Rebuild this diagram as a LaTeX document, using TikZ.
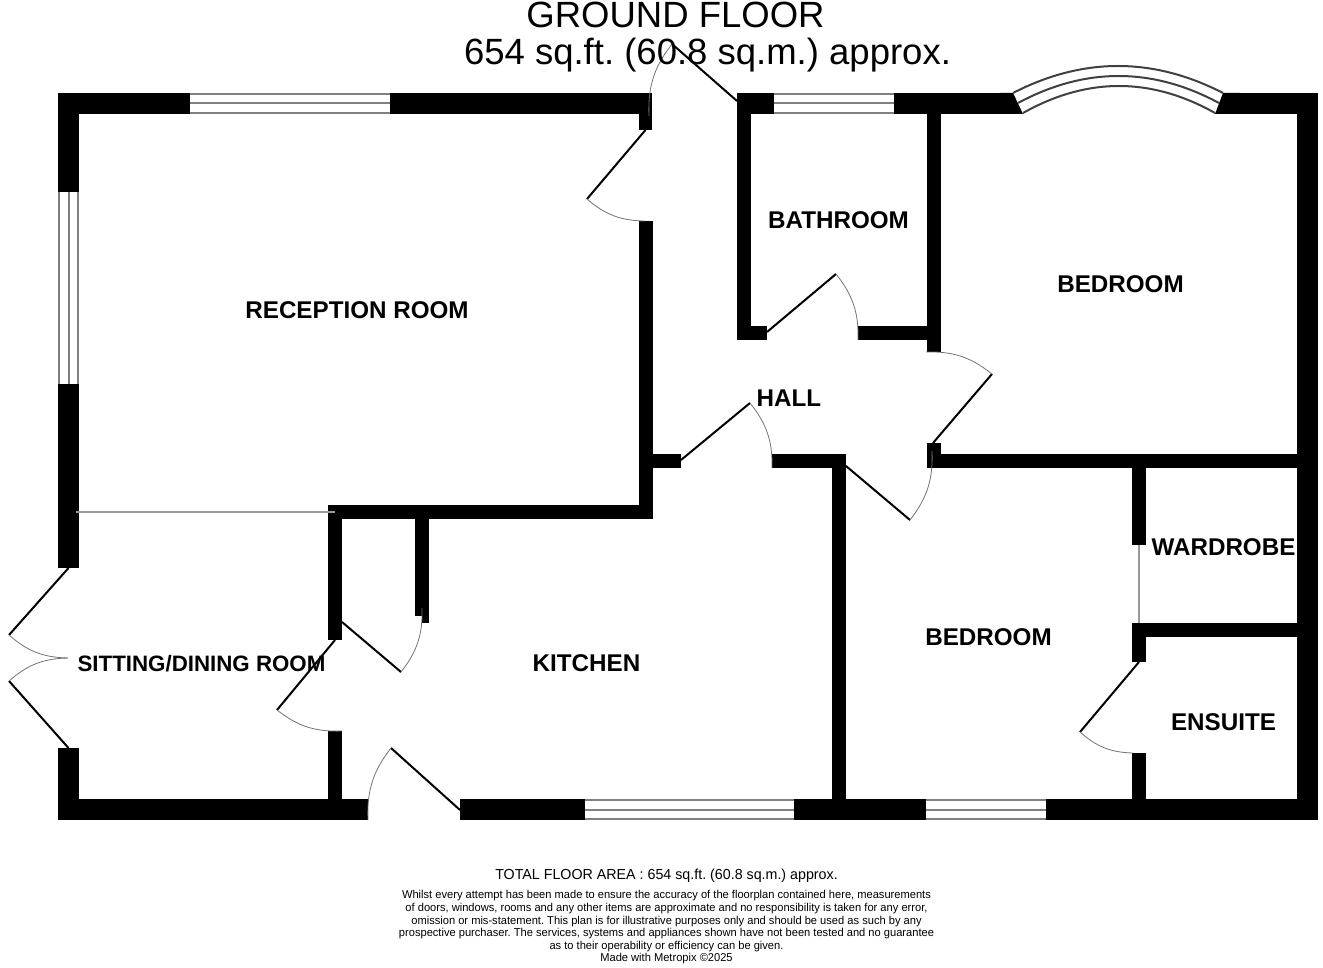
\documentclass[tikz,border=0pt]{standalone}
\usepackage{fontspec}
\setmainfont{Liberation Sans}
\frenchspacing
\tikzset{
  wall/.style={fill=black},
  glass/.style={draw=black!50,line width=2pt},
  bay/.style={draw=black!75,line width=2pt},
  leaf/.style={draw=black,line width=2pt},
  swing/.style={draw=black!55,line width=0.8pt},
  divide/.style={draw=black!40,line width=1.2pt},
  room/.style={font=\fontsize{24.2}{28}\selectfont\bfseries,inner sep=0pt,anchor=base},
  heading/.style={font=\fontsize{36.5}{42}\selectfont,inner sep=0pt,anchor=base},
}
\begin{document}
\begin{tikzpicture}[x=1pt,y=-1pt]
  \useasboundingbox (0,0) rectangle (1323,968);
  \fill[white] (0,0) rectangle (1323,968);
  \fill[wall] (58,93) rectangle (190,114);
  \fill[wall] (390,93) rectangle (652,114);
  \fill[wall] (638.5,93) rectangle (652,130);
  \fill[wall] (638.5,221) rectangle (652.5,519);
  \fill[wall] (58,93) rectangle (79,192);
  \fill[wall] (58,384) rectangle (79,568);
  \fill[wall] (58,748) rectangle (79,820);
  \fill[wall] (58,798.5) rectangle (368,820);
  \fill[wall] (460,798.5) rectangle (585,820);
  \fill[wall] (794,798.5) rectangle (926,820);
  \fill[wall] (1046,798.5) rectangle (1318,820);
  \fill[wall] (737,93) rectangle (774,114);
  \fill[wall] (894,93) rectangle (1013,114);
  \fill[wall] (1013,93) -- (1023,114) -- (1000,114) -- (1000,93) -- cycle;
  \fill[wall] (1223,93) -- (1215,114) -- (1240,114) -- (1240,93) -- cycle;
  \fill[wall] (1235,93) rectangle (1318,114);
  \fill[wall] (1297,93) rectangle (1318,820);
  \fill[wall] (737,93) rectangle (751,340);
  \fill[wall] (737,326) rectangle (767,340);
  \fill[wall] (926.5,93) rectangle (940.5,352);
  \fill[wall] (858,326) rectangle (940.5,340);
  \fill[wall] (638.5,454) rectangle (681,468);
  \fill[wall] (772,454) rectangle (846,468);
  \fill[wall] (832,454) rectangle (846,820);
  \fill[wall] (926.5,443) rectangle (940.5,468);
  \fill[wall] (926.5,454) rectangle (1318,468);
  \fill[wall] (328,505) rectangle (652,519);
  \fill[wall] (328,505) rectangle (342,640);
  \fill[wall] (415,505) rectangle (429,616);
  \fill[wall] (422,605) rectangle (429,623);
  \fill[wall] (328,731) rectangle (342,820);
  \fill[wall] (1132,454) rectangle (1146,545);
  \fill[wall] (1132,623) rectangle (1318,637);
  \fill[wall] (1132,623) rectangle (1146,662);
  \fill[wall] (1132,753) rectangle (1146,820);

  \draw[glass] (190,94) -- (390,94) (190,103.5) -- (390,103.5) (190,113) -- (390,113);
  \draw[glass] (59,192) -- (59,384) (68.5,192) -- (68.5,384) (78,192) -- (78,384);
  \draw[glass] (774,94) -- (894,94) (774,103.5) -- (894,103.5) (774,113) -- (894,113);
  \draw[glass] (585,799.5) -- (794,799.5) (585,809.5) -- (794,809.5) (585,819) -- (794,819);
  \draw[glass] (926,799.5) -- (1046,799.5) (926,809.5) -- (1046,809.5) (926,819) -- (1046,819);
  \draw[bay] (1013,93) .. controls (1083,57) and (1153,57) .. (1223,93);
  \draw[bay] (1018,103) .. controls (1085,67) and (1152,67) .. (1219,103);
  \draw[bay] (1023,113) .. controls (1087,77) and (1151,77) .. (1215,113);

  \draw[divide] (76,512) -- (335,512);
  \draw[divide] (1139,545) -- (1139,623);

  \draw[leaf] (737,101) -- (672,44);
  \draw[swing] (672,44) to[bend right=20] (649,116);
  \draw[leaf] (645.5,130) -- (587,199);
  \draw[swing] (587,199) to[bend right=20] (645,221);
  \draw[leaf] (767,332) -- (836,274);
  \draw[swing] (836,274) to[bend left=20] (858,340);
  \draw[leaf] (681,460) -- (750,403);
  \draw[swing] (750,403) to[bend left=20] (772,468);
  \draw[leaf] (933,443) -- (992,374);
  \draw[swing] (992,374) to[bend right=20] (926,352);
  \draw[leaf] (846,466) -- (910,520);
  \draw[swing] (910,520) to[bend right=20] (932,451);
  \draw[leaf] (68.5,568) -- (9,635);
  \draw[swing] (9,635) to[bend right=20] (68,658);
  \draw[leaf] (68.5,748) -- (9,681);
  \draw[swing] (9,681) to[bend left=20] (68,658);
  \draw[leaf] (335,640) -- (277,710);
  \draw[swing] (277,710) to[bend right=20] (342,731);
  \draw[leaf] (342,622) -- (401,672);
  \draw[swing] (401,672) to[bend right=20] (422,608);
  \draw[leaf] (460,810) -- (391,748);
  \draw[swing] (391,748) to[bend right=20] (368,820);
  \draw[leaf] (1139,662) -- (1080,732);
  \draw[swing] (1080,732) to[bend right=20] (1133,753);

  \node[heading] (groundfloor) at (675.5,28) {GROUND FLOOR};
  \node[heading] (floorarea) at (707.5,65) {654 sq.ft. (60.8 sq.m.) approx.};
  \node[room] (reception) at (357,318.5) {RECEPTION ROOM};
  \node[room] (bathroom) at (838.5,228.5) {BATHROOM};
  \node[room] (bedroomone) at (1120.5,292.5) {BEDROOM};
  \node[room] (hall) at (789,406.5) {HALL};
  \node[room] (kitchen) at (586.5,671) {KITCHEN};
  \node[room,font=\fontsize{22.3}{28}\selectfont\bfseries] (sitting) at (201.5,671) {SITTING/DINING ROOM};
  \node[room] (bedroomtwo) at (988.5,645.5) {BEDROOM};
  \node[room] (wardrobe) at (1223.5,555.5) {WARDROBE};
  \node[room] (ensuite) at (1223.5,730) {ENSUITE};
  \node[font=\fontsize{14.5}{17}\selectfont,inner sep=0pt,anchor=base,xscale=0.983,transform shape] (total) at (666.5,879) {TOTAL FLOOR AREA : 654 sq.ft. (60.8 sq.m.) approx.};
  \node[font=\fontsize{11.4}{12.55}\selectfont,inner sep=0pt,align=center,anchor=north,xscale=0.975,transform shape] (notice) at (666.5,890.5) {Whilst every attempt has been made to ensure the accuracy of the floorplan contained here, measurements\\
    of doors, windows, rooms and any other items are approximate and no responsibility is taken for any error,\\
    omission or mis-statement. This plan is for illustrative purposes only and should be used as such by any\\
    prospective purchaser. The services, systems and appliances shown have not been tested and no guarantee\\
    as to their operability or efficiency can be given.\\
    Made with Metropix ©2025};
\end{tikzpicture}
\end{document}
